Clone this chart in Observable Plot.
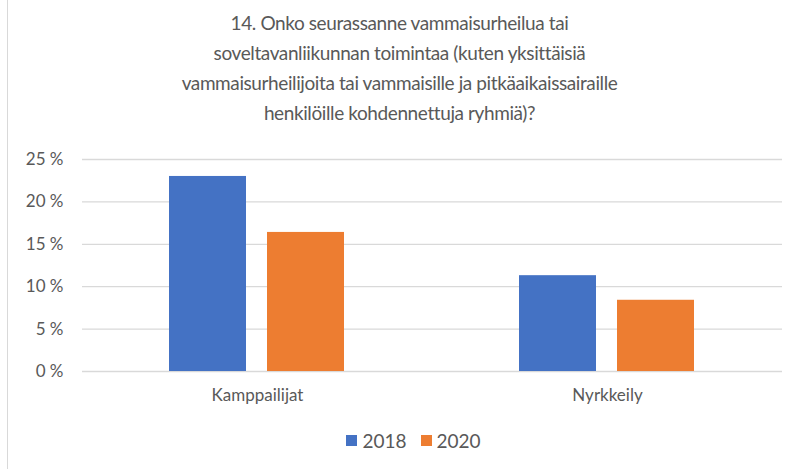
<!DOCTYPE html>
<html>
<head>
<meta charset="utf-8">
<script src="https://cdn.jsdelivr.net/npm/d3@7"></script>
<script src="https://cdn.jsdelivr.net/npm/@observablehq/plot@0.6"></script>
<style>
  html, body { margin: 0; padding: 0; background: #fff; }
  #wrap { position: relative; width: 789px; height: 469px; overflow: hidden; font-family: Lato, "Open Sans", sans-serif; color: #595959; }
  #border { position: absolute; left: 7px; top: 0; width: 1px; height: 469px; background: #d9d9d9; }
  #title { box-sizing: border-box; width: 789px; height: 140px; padding: 8px 0 0 10px; text-align: center; font-size: 19px; letter-spacing: -0.4px; line-height: 30px; }
  #legend { display: flex; justify-content: center; align-items: center; height: 58px; padding-left: 38px; font-size: 19px; gap: 14px; }
  .item { display: flex; align-items: center; gap: 5px; }
  .sw { width: 11px; height: 11px; display: inline-block; }
</style>
</head>
<body>
<div id="wrap">
  <div id="border"></div>
  <div id="title"></div>
  <div id="chart"></div>
  <div id="legend"></div>
</div>
<script>
const titleLines = [
  "14. Onko seurassanne vammaisurheilua tai",
  "soveltavanliikunnan toimintaa (kuten yksittäisiä",
  "vammaisurheilijoita tai vammaisille ja pitkäaikaissairaille",
  "henkilöille kohdennettuja ryhmiä)?"
];
const categories = ["Kamppailijat", "Nyrkkeily"];
const years = ["2018", "2020"];
const values2018 = [23.0, 11.3];
const values2020 = [16.4, 8.4];
const yTicks = [0, 5, 10, 15, 20, 25];
const colors = ["#4472C4", "#ED7D31"];

const series = {"2018": values2018, "2020": values2020};
const data = categories.flatMap((c, i) => years.map(y => ({category: c, year: y, value: series[y][i]})));

document.getElementById("title").innerHTML = titleLines.join("<br>");

const chart = Plot.plot({
  width: 789,
  height: 271,
  marginLeft: 82,
  marginRight: 7,
  marginTop: 19,
  marginBottom: 40,
  style: {fontFamily: "Lato, 'Open Sans', sans-serif", fontSize: "17px", color: "#595959", background: "transparent", overflow: "visible"},
  fx: {domain: categories, padding: 0},
  x: {domain: years, paddingInner: 0.212, paddingOuter: 0.874, axis: null},
  y: {domain: [0, 25]},
  color: {domain: years, range: colors},
  marks: [
    Plot.gridY(yTicks, {stroke: "#d9d9d9", strokeOpacity: 1, strokeWidth: 1.3}),
    Plot.barY(data, {fx: "category", x: "year", y: "value", fill: "year"}),
    Plot.axisY(yTicks, {tickSize: 0, tickPadding: 19, tickFormat: d => `${d} %`, label: null, fill: "#595959"}),
    Plot.axisFx({anchor: "bottom", tickSize: 0, tickPadding: 17, label: null, fill: "#595959"})
  ]
});
document.getElementById("chart").appendChild(chart);

const legend = document.getElementById("legend");
years.forEach((y, i) => {
  const item = document.createElement("span");
  item.className = "item";
  item.innerHTML = `<span class="sw" style="background:${colors[i]}"></span><span>${y}</span>`;
  legend.appendChild(item);
});
</script>
</body>
</html>
